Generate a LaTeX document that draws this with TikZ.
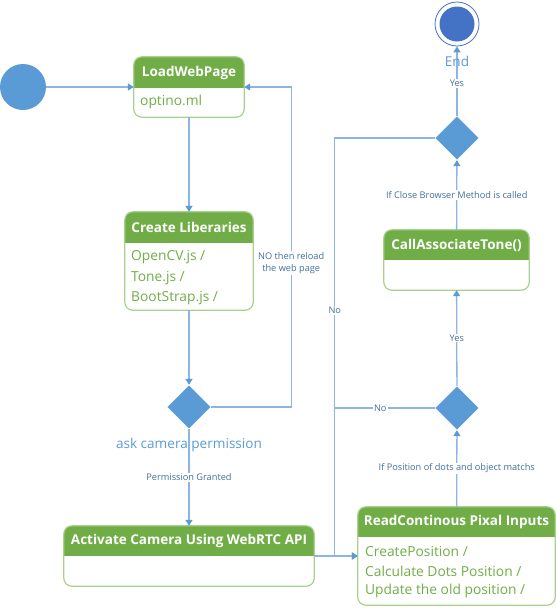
\documentclass[tikz,border=0pt]{standalone}
\usepackage{fontspec}
\setmainfont{Open Sans}
\usetikzlibrary{shapes.geometric,arrows.meta}
\definecolor{hdr}{HTML}{70AD47}
\definecolor{bord}{HTML}{A9D18E}
\definecolor{dia}{HTML}{5B9BD5}
\definecolor{ln}{HTML}{8EB4E3}
\definecolor{lbl}{HTML}{41719C}
\definecolor{endc}{HTML}{4472C4}
\newcommand\actbox[7]{%
  \node[inner sep=0, minimum width={#4-#2}, minimum height={#5-#3}] (#1) at ({(#2+#4)/2},{(#3+#5)/2}) {};
  \begin{scope}
    \clip[rounded corners=8pt] (#1.north west) rectangle (#1.south east);
    \fill[hdr] (#2,#3) rectangle (#4,#6);
  \end{scope}
  \draw[bord, line width=1.2pt, rounded corners=8pt] (#1.north west) rectangle (#1.south east);
  \node[title] at ({(#2+#4)/2},{(#3+#6)/2}) {#7};
}
\begin{document}
\begin{tikzpicture}[x=1pt,y=-1pt,
  title/.style={text=white, font=\bfseries\fontsize{13.5}{15}\selectfont, inner sep=0},
  body/.style={text=hdr, font=\fontsize{13.8}{15}\selectfont, anchor=west, inner sep=0},
  dec/.style={diamond, fill=dia, draw=white, line width=0.4pt, minimum width=44, minimum height=44, inner sep=0},
  flow/.style={draw=ln, line width=1.3pt, -{Triangle[width=7pt,length=6pt,color=dia,fill=dia]}},
  conn/.style={draw=ln, line width=1.3pt},
  lab/.style={text=lbl, font=\fontsize{9.2}{12}\selectfont, fill=white, inner sep=1pt, align=center},
  bigl/.style={text=dia, font=\fontsize{13.6}{15}\selectfont, inner sep=0}]
\useasboundingbox (0,0) rectangle (556,608);
% start / end
\node[circle, fill=dia, minimum size=46, inner sep=0] (start) at (23,87) {};
\node[circle, draw=endc, line width=0.8pt, minimum size=44, inner sep=0] (end) at (457,24) {};
\fill[endc] (end.center) circle (17.5);
% boxes
\actbox{lw}{134}{57}{244}{117}{88}{LoadWebPage}
\node[body] at (140,102) {optino.ml};
\actbox{cl}{125}{212}{253}{310}{243}{Create Liberaries}
\node[body] at (131,257) {OpenCV.js /};
\node[body] at (131,278) {Tone.js /};
\node[body] at (131,298) {BootStrap.js /};
\actbox{ac}{64}{526}{314}{586}{556}{Activate Camera Using WebRTC API}
\actbox{rc}{358}{507}{555}{605}{537}{ReadContinous Pixal Inputs}
\node[body] at (365,551) {CreatePosition /};
\node[body] at (365,571) {Calculate Dots Position /};
\node[body] at (365,591) {Update the old position /};
\actbox{ca}{384}{230}{529}{290}{260}{CallAssociateTone()}
% decisions
\node[dec] (d1) at (189,407) {};
\node[dec] (d2) at (457,408) {};
\node[dec] (d3) at (457,138) {};
\node[bigl] (askl) at (189,445) {ask camera permission};
% connectors
\draw[flow] (start) -- (lw);
\draw[flow] (lw) -- (cl);
\draw[flow] (cl) -- (d1);
\draw[flow] (d1) -- node[lab]{Permission Granted} (ac);
\draw[flow] (d1.east) -| ([xshift=47]lw.east) node[lab, pos=0.725]{NO then reload\\the web page} -- (lw.east);
\draw[flow] (ac.east |- rc.west) -- (rc.west);
\draw[flow] (d3.west) -| node[lab, pos=0.706]{No} ([xshift=-23]rc.west) -- (rc.west);
\draw[conn] (d2.west) -- node[lab, pos=0.545]{No} ([xshift=-23]d2.west -| rc.west);
\draw[flow] (rc) -- node[lab]{If Position of dots and object matchs} (d2);
\draw[flow] (d2) -- node[lab]{Yes} (ca);
\draw[flow] (ca) -- node[lab]{If Close Browser Method is called} (d3);
\draw[flow] (d3) -- node[lab, pos=0.47]{Yes} (end);
\node[bigl] (endl) at (457,61) {End};
\end{tikzpicture}
\end{document}
